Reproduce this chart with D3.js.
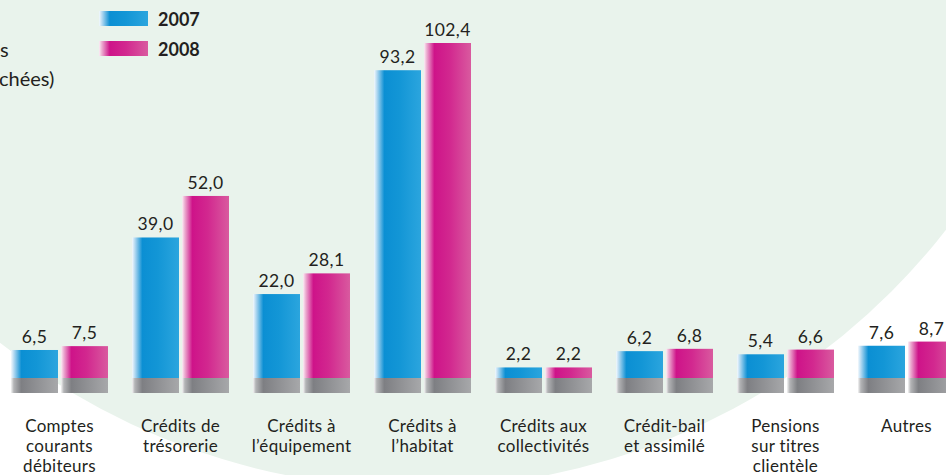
<!DOCTYPE html>
<html>
<head>
<meta charset="utf-8">
<script src="https://cdn.jsdelivr.net/npm/d3@7"></script>
<style>
  body { margin: 0; background: #fff; }
  svg { display: block; font-family: Lato, "Open Sans", sans-serif; }
</style>
</head>
<body>
<div id="chart"></div>
<script>
// Data
const categories = [
  ["Comptes", "courants", "débiteurs"],
  ["Crédits de", "trésorerie"],
  ["Crédits à", "l’équipement"],
  ["Crédits à", "l’habitat"],
  ["Crédits aux", "collectivités"],
  ["Crédit-bail", "et assimilé"],
  ["Pensions", "sur titres", "clientèle"],
  ["Autres"]
];
const years = ["2007", "2008"];
const values2007 = [6.5, 39.0, 22.0, 93.2, 2.2, 6.2, 5.4, 7.6];
const values2008 = [7.5, 52.0, 28.1, 102.4, 2.2, 6.8, 6.6, 8.7];

const width = 946, height = 475;
const baseTop = 378, baseH = 15;
const textColor = "#231f20";

const svg = d3.select("#chart")
    .append("svg")
    .attr("width", width)
    .attr("height", height);

// Gradients (light left edge, like the printed bars)
const defs = svg.append("defs");
function makeGrad(id, stops) {
  const g = defs.append("linearGradient").attr("id", id)
      .attr("x1", "0%").attr("x2", "100%").attr("y1", "0%").attr("y2", "0%");
  stops.forEach(s => g.append("stop").attr("offset", s[0]).attr("stop-color", s[1]));
}
makeGrad("g2007", [["0%", "#f4f9fd"], ["6%", "#b5daf2"], ["22%", "#0b8fd3"], ["55%", "#1396d6"], ["100%", "#2ba5de"]]);
makeGrad("g2008", [["0%", "#fbeef5"], ["6%", "#ecabd0"], ["22%", "#ce1389"], ["55%", "#d2288f"], ["100%", "#d95a9f"]]);
makeGrad("gBase", [["0%", "#f4f4f4"], ["6%", "#b3b4b6"], ["22%", "#7e7f83"], ["100%", "#a7a8aa"]]);
const fills = {"2007": "url(#g2007)", "2008": "url(#g2008)"};

// Background circle
svg.append("circle")
    .attr("cx", 417).attr("cy", -183).attr("r", 671)
    .attr("fill", "#e9f3ec");

// Scales
const x0 = d3.scaleBand()
    .domain(d3.range(categories.length))
    .range([11, 955])
    .paddingInner(24 / 121)
    .paddingOuter(0);
const x1 = d3.scaleBand()
    .domain(years)
    .range([0, x0.bandwidth()])
    .paddingInner(0.06);
// the printed bars are not strictly proportional, a mild power scale follows them best
const y = d3.scalePow().exponent(0.9)
    .domain([0, 102.4])
    .range([baseTop, 43]);

const rows = categories.map((c, i) => ({i, vals: [
  {year: "2007", v: values2007[i]},
  {year: "2008", v: values2008[i]}
]}));

const groups = svg.selectAll(".grp")
    .data(rows)
    .enter()
    .append("g")
    .attr("class", "grp")
    .attr("transform", d => `translate(${x0(d.i)},0)`);

// Bars
groups.selectAll(".bar")
    .data(d => d.vals)
    .enter()
    .append("rect")
    .attr("class", "bar")
    .attr("x", d => x1(d.year))
    .attr("y", d => y(d.v))
    .attr("width", x1.bandwidth())
    .attr("height", d => baseTop - y(d.v))
    .attr("fill", d => fills[d.year]);

// Grey base
groups.selectAll(".base")
    .data(d => d.vals)
    .enter()
    .append("rect")
    .attr("class", "base")
    .attr("x", d => x1(d.year))
    .attr("y", baseTop)
    .attr("width", x1.bandwidth())
    .attr("height", baseH)
    .attr("fill", "url(#gBase)");

// Value labels
groups.selectAll(".val")
    .data(d => d.vals)
    .enter()
    .append("text")
    .attr("class", "val")
    .attr("x", d => x1(d.year) + x1.bandwidth() / 2)
    .attr("y", d => y(d.v) - 7)
    .attr("text-anchor", "middle")
    .attr("font-size", 17.5)
    .attr("letter-spacing", 0.4)
    .attr("fill", textColor)
    .text(d => d3.format(".1f")(d.v).replace(".", ","));

// Category labels
groups.append("text")
    .attr("text-anchor", "middle")
    .attr("font-size", 17)
    .attr("letter-spacing", 0.3)
    .attr("fill", textColor)
    .selectAll("tspan")
    .data(d => categories[d.i])
    .enter()
    .append("tspan")
    .attr("x", x0.bandwidth() / 2)
    .attr("y", (d, j) => 431.5 + j * 20.4)
    .text(d => d);

// Legend
const legend = svg.append("g");
years.forEach((yr, i) => {
  legend.append("rect")
      .attr("x", 99).attr("y", 11 + i * 30)
      .attr("width", 49).attr("height", 15)
      .attr("fill", fills[yr]);
  legend.append("text")
      .attr("x", 158).attr("y", 25.5 + i * 30)
      .attr("font-size", 18).attr("font-weight", "bold")
      .attr("fill", textColor)
      .text(yr);
});

// Cut-off title fragments at the left edge
svg.append("text").attr("x", 0).attr("y", 57)
    .attr("font-size", 20).attr("fill", textColor).text("s");
svg.append("text").attr("x", -1).attr("y", 86)
    .attr("font-size", 20).attr("fill", textColor).text("chées)");
</script>
</body>
</html>
